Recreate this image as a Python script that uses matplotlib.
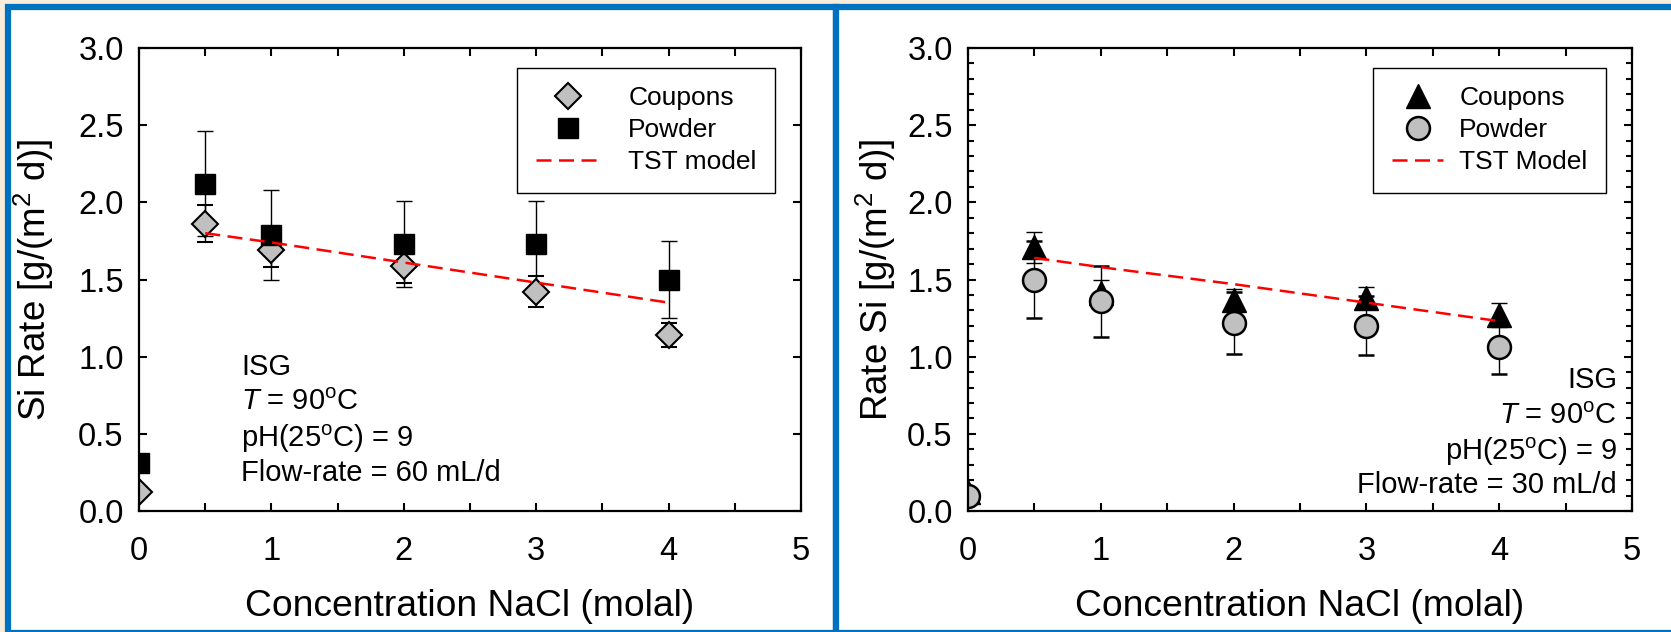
import matplotlib
matplotlib.use("Agg")
from matplotlib import pyplot as plt
from matplotlib.patches import Rectangle
from matplotlib.lines import Line2D
from matplotlib.ticker import MultipleLocator, FormatStrFormatter

plt.rcParams["font.family"] = ["Liberation Sans", "DejaVu Sans"]
plt.rcParams["mathtext.fontset"] = "custom"
plt.rcParams["mathtext.rm"] = "Liberation Sans"
plt.rcParams["mathtext.it"] = "Liberation Sans:italic"

# levy panel - flow 60 mL/d
x_l = [0, 0.5, 1, 2, 3, 4]
kupony_l = [0.12, 1.86, 1.69, 1.59, 1.42, 1.14]
kupony_l_err = [0.0, 0.12, 0.11, 0.11, 0.10, 0.08]
prasek_l = [0.31, 2.12, 1.79, 1.73, 1.73, 1.50]
prasek_l_err = [0.0, 0.34, 0.29, 0.28, 0.28, 0.25]
tst_x = [0.5, 1, 2, 3, 4]
tst_l = [1.80, 1.74, 1.61, 1.48, 1.35]

# pravy panel - flow 30 mL/d
x_r = [0, 0.5, 1, 2, 3, 4]
kupony_r = [0.12, 1.71, 1.41, 1.37, 1.38, 1.27]
kupony_r_err = [0.0, 0.10, 0.09, 0.07, 0.07, 0.08]
prasek_r = [0.10, 1.50, 1.36, 1.22, 1.20, 1.06]
prasek_r_err = [0.0, 0.25, 0.23, 0.20, 0.19, 0.17]
tst_r = [1.64, 1.58, 1.47, 1.35, 1.23]

W, H = 1671, 632
fig = plt.figure(figsize=(W / 100, H / 100), dpi=100, facecolor="#F7EDDA")

modra = "#0070C0"
def ramecek(x0, y0, x1, y1):
    fig.patches.append(Rectangle((x0 / W, 1 - y1 / H), (x1 - x0) / W, (y1 - y0) / H,
                                 transform=fig.transFigure, facecolor="white",
                                 edgecolor=modra, linewidth=4.5, zorder=-10))
ramecek(8, 6.5, 836, 633)
ramecek(836, 6.5, 1690, 633)

ax_l = fig.add_axes([139 / W, 1 - 511 / H, 662 / W, 463 / H])
ax_r = fig.add_axes([968 / W, 1 - 511 / H, 664 / W, 463 / H])

def nastav_osy(ax, minor_y, ylab, ylab_x):
    ax.set_xlim(0, 5)
    ax.set_ylim(0, 3)
    ax.xaxis.set_major_locator(MultipleLocator(1))
    ax.xaxis.set_minor_locator(MultipleLocator(0.5))
    ax.yaxis.set_major_locator(MultipleLocator(0.5))
    if minor_y:
        ax.yaxis.set_minor_locator(MultipleLocator(0.1))
    ax.yaxis.set_major_formatter(FormatStrFormatter("%.1f"))
    ax.tick_params(which="both", direction="in", top=True, right=True, width=1.5)
    ax.tick_params(which="major", length=6)
    ax.tick_params(which="minor", length=4)
    ax.tick_params(axis="x", which="minor", length=6)
    ax.tick_params(axis="x", labelsize=23.5, pad=18)
    ax.tick_params(axis="y", labelsize=23.5, pad=11)
    for s in ax.spines.values():
        s.set_linewidth(1.6)
    ax.set_xlabel("Concentration NaCl (molal)", fontsize=26.8)
    ax.xaxis.set_label_coords(0.5, -0.168)
    ax.set_ylabel(ylab, fontsize=26.5)
    ax.yaxis.set_label_coords(ylab_x, 0.5)

nastav_osy(ax_l, False, "Si Rate [g/(m$^2$ d)]", -0.126)
nastav_osy(ax_r, True, "Rate Si [g/(m$^2$ d)]", -0.105)

cara = (0, (6, 3))
eb = dict(ecolor="black", elinewidth=1.0, capsize=6, capthick=1.0, linestyle="none")
leg_kw = dict(loc="upper right", borderaxespad=0, fontsize=19, fancybox=False,
              framealpha=1, edgecolor="black", labelspacing=0.3, borderpad=0.7)

# levy
styl_kup_l = dict(marker="D", ms=13.5, mfc="#C0C0C0", mec="black", mew=1.5)
styl_pra_l = dict(marker="s", ms=15, mfc="black", mec="black", mew=1.0)
ax_l.errorbar(x_l, kupony_l, yerr=kupony_l_err, **styl_kup_l, **eb)
ax_l.errorbar(x_l, prasek_l, yerr=prasek_l_err, **styl_pra_l, **eb)
ax_l.plot(tst_x, tst_l, color="red", lw=1.8, linestyle=cara, zorder=5)
h_l = [Line2D([], [], linestyle="none", **styl_kup_l),
       Line2D([], [], linestyle="none", **styl_pra_l),
       Line2D([], [], color="red", lw=1.8, linestyle=cara)]
leg = ax_l.legend(h_l, ["Coupons", "Powder", "TST model"], bbox_to_anchor=(0.9607, 0.9568),
                  handlelength=2.45, handletextpad=1.05, **leg_kw)
leg.get_frame().set_linewidth(1.0)
for yy, t in zip([0.881, 0.655, 0.415, 0.194],
                 ["ISG", "$T$ = 90$^{\\mathrm{o}}$C", "pH(25$^{\\mathrm{o}}$C) = 9", "Flow-rate = 60 mL/d"]):
    ax_l.text(0.774, yy, t, fontsize=21, ha="left", va="baseline")

# pravy
styl_kup_r = dict(marker="^", ms=17, mfc="black", mec="black", mew=1.0)
styl_pra_r = dict(marker="o", ms=16.5, mfc="#C0C0C0", mec="black", mew=1.8)
ax_r.errorbar(x_r, kupony_r, yerr=kupony_r_err, **styl_kup_r, **eb)
ax_r.errorbar(x_r, prasek_r, yerr=prasek_r_err, **styl_pra_r, **eb)
ax_r.plot(tst_x, tst_r, color="red", lw=1.8, linestyle=cara, zorder=5)
h_r = [Line2D([], [], linestyle="none", **styl_kup_r),
       Line2D([], [], linestyle="none", **styl_pra_r),
       Line2D([], [], color="red", lw=1.8, linestyle=cara)]
leg = ax_r.legend(h_r, ["Coupons", "Powder", "TST Model"], bbox_to_anchor=(0.9608, 0.9568),
                  handlelength=1.95, handletextpad=0.6, **leg_kw)
leg.get_frame().set_linewidth(1.0)
for yy, t in zip([0.80, 0.564, 0.33, 0.117],
                 ["ISG", "$T$ = 90$^{\\mathrm{o}}$C", "pH(25$^{\\mathrm{o}}$C) = 9", "Flow-rate = 30 mL/d"]):
    ax_r.text(4.887, yy, t, fontsize=21, ha="right", va="baseline")

fig.savefig("out.png", dpi=100, facecolor=fig.get_facecolor())
